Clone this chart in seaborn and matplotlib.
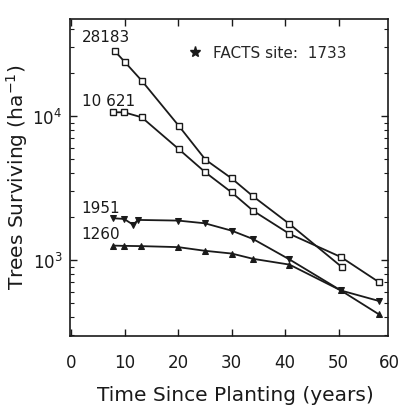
import numpy as np
import pandas as pd
import matplotlib
matplotlib.use("Agg")
import matplotlib.pyplot as plt
import seaborn as sns
from matplotlib.lines import Line2D
from matplotlib.ticker import LogLocator, NullFormatter, FixedLocator

# data (years since planting, trees per ha)
years_28183 = [8.2, 10.1, 13.2, 20.1, 25.1, 30.0, 34.0, 40.8, 50.6]
trees_28183 = [28183, 23600, 17600, 8570, 4980, 3690, 2770, 1780, 893]

years_10621 = [7.9, 9.9, 13.2, 20.1, 25.1, 30.0, 34.0, 40.8, 50.4, 57.5]
trees_10621 = [10621, 10621, 9800, 5900, 4060, 2950, 2200, 1520, 1050, 703]

years_1951 = [7.9, 9.9, 11.6, 12.5, 20.0, 25.0, 30.0, 34.0, 40.8, 50.4, 57.5]
trees_1951 = [1951, 1930, 1760, 1900, 1880, 1800, 1600, 1400, 1010, 615, 520]

years_1260 = [7.9, 9.9, 13.0, 20.0, 25.0, 30.0, 34.0, 40.8, 50.4, 57.5]
trees_1260 = [1260, 1255, 1250, 1230, 1160, 1110, 1020, 930, 615, 420]

start_labels = ["28183", "10 621", "1951", "1260"]
facts_label = "FACTS site:  1733"

sns.set_style("ticks")
plt.rcParams['font.family'] = ['DejaVu Sans']
plt.rcParams['mathtext.fontset'] = 'dejavusans'

fig = plt.figure(figsize=(4.01, 4.06), dpi=100)
ax = fig.add_axes([70 / 401, 69 / 406, 318 / 401, 317 / 406])

ink = "#1a1a1a"

# open squares: two densest stands
for xs, ys in [(years_28183, trees_28183), (years_10621, trees_10621)]:
    sns.lineplot(x=xs, y=ys, ax=ax, color=ink, lw=1.3, marker="s", markersize=5,
                 markerfacecolor="white", markeredgecolor=ink, markeredgewidth=1.0)

# filled triangles: lower densities
sns.lineplot(x=years_1951, y=trees_1951, ax=ax, color=ink, lw=1.3, marker="v",
             markersize=5, markerfacecolor=ink, markeredgecolor=ink)
sns.lineplot(x=years_1260, y=trees_1260, ax=ax, color=ink, lw=1.3, marker="^",
             markersize=5, markerfacecolor=ink, markeredgecolor=ink)

ax.set_yscale("log")
ax.set_xlim(-0.2, 59.2)
ax.set_ylim(297, 47200)

ax.set_xticks([0, 10, 20, 30, 40, 50])
ax.set_yticks([1e3, 1e4])
ax.set_yticklabels([r"$10^3$", r"$10^4$"])
ax.yaxis.set_minor_locator(LogLocator(base=10, subs=np.arange(2, 10)))
ax.yaxis.set_minor_formatter(NullFormatter())

ax.tick_params(axis="both", which="both", direction="in", top=True, right=True,
               colors=ink, labelsize=12)
ax.tick_params(axis="both", which="major", length=5, width=1.0)
ax.tick_params(axis="both", which="minor", length=3, width=0.8)
ax.tick_params(axis="x", pad=12)
ax.tick_params(axis="y", pad=5.5)
ax.xaxis.set_minor_locator(FixedLocator([]))
for s in ax.spines.values():
    s.set_color(ink)
    s.set_linewidth(1.2)

# tick label for 60 sits just beyond the axis edge
ax.text(59.5, -0.053, "60", transform=ax.get_xaxis_transform(), ha="center",
        va="top", fontsize=12, color=ink, clip_on=False)

# starting density labels
ax.text(2.0, 31500, start_labels[0], fontsize=11, color=ink, ha="left", va="bottom")
ax.text(2.0, 11300, start_labels[1], fontsize=11, color=ink, ha="left", va="bottom")
ax.text(2.0, 2060, start_labels[2], fontsize=11, color=ink, ha="left", va="bottom")
ax.text(2.0, 1360, start_labels[3], fontsize=11, color=ink, ha="left", va="bottom")

star = Line2D([], [], marker="*", color=ink, linestyle="none", markersize=8)
ax.legend(handles=[star], labels=[facts_label], loc="upper left",
          bbox_to_anchor=(0.32, 0.96), frameon=False, fontsize=11,
          handletextpad=0.6, handlelength=1.2)

ax.set_xlabel("Time Since Planting (years)", fontsize=14.5, color=ink)
ax.xaxis.set_label_coords(0.52, -0.155)
ax.set_ylabel(r"Trees Surviving (ha$^{-1}$)", fontsize=14.5, color=ink)
ax.yaxis.set_label_coords(-0.126, 0.505)

fig.savefig("out.png", dpi=100)
